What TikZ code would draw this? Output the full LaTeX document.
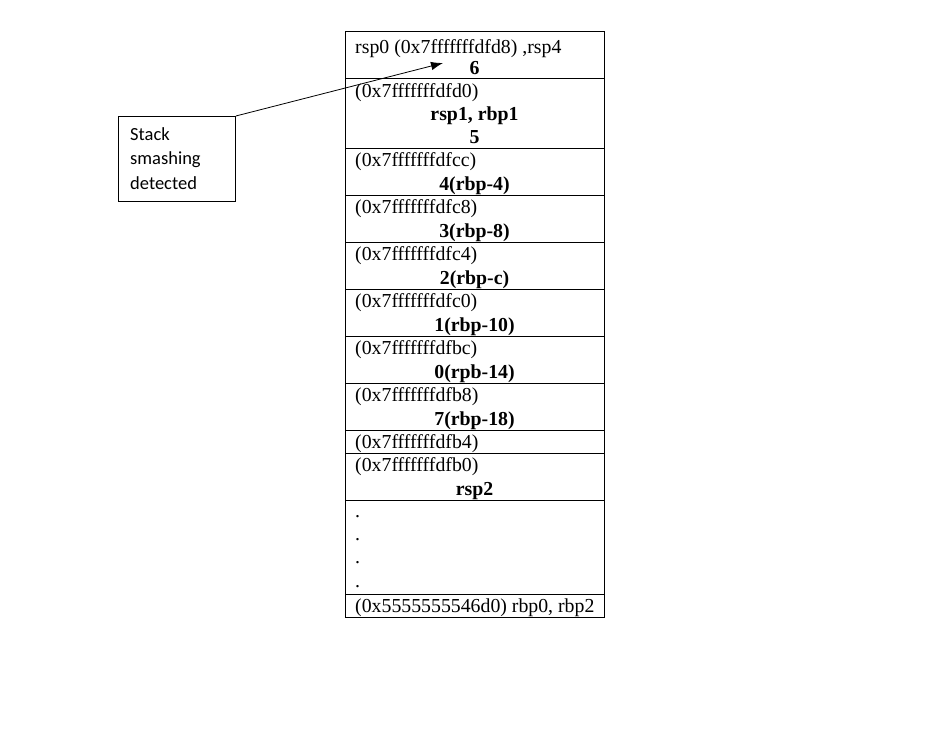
\documentclass[tikz,border=0pt]{standalone}
\usepackage{fontspec}
\setmainfont{Liberation Serif}
\newfontfamily\calloutfont{Carlito}
\usetikzlibrary{arrows.meta}
\begin{document}
\begin{tikzpicture}[x=1pt,y=-1pt,
  frame/.style={draw=black,line width=0.9pt},
  addr/.style={anchor=base west,inner sep=0pt,font=\fontsize{19.8}{22}\selectfont},
  val/.style={anchor=base,inner sep=0pt,font=\fontsize{19.8}{22}\selectfont\bfseries},
  note/.style={anchor=base west,inner sep=0pt,font=\calloutfont\fontsize{18.5}{22}\selectfont},
  notebox/.style={draw=black,line width=0.9pt,minimum width=117pt,minimum height=85pt,inner sep=0pt,anchor=north west},
  pointer/.style={line width=0.8pt,-{Latex[length=12pt,width=8.5pt]}}]
\useasboundingbox (0,0) rectangle (933,741);

% stack cells, top to bottom
\foreach \t/\b in {31/78,78/148,148/195,195/242,242/289,289/336,336/383,383/430,430/453,453/500,500/594,594/617}
  \draw[frame] (345,\t) rectangle (604,\b);

% cell contents
\node[addr] (a1) at (355,53.5) {rsp0 (0x7fffffffdfd8) ,rsp4};
\node[val]  (v1) at (474.5,75) {6};

\node[addr] (a2) at (355,97.5) {(0x7fffffffdfd0)};
\node[val]  (v2a) at (474.5,120.5) {rsp1, rbp1};
\node[val]  (v2b) at (474.5,143) {5};

\node[addr] (a3) at (355,166) {(0x7fffffffdfcc)};
\node[val]  (v3) at (474.5,190.5) {4(rbp-4)};

\node[addr] (a4) at (355,213.5) {(0x7fffffffdfc8)};
\node[val]  (v4) at (474.5,237.5) {3(rbp-8)};

\node[addr] (a5) at (355,260.5) {(0x7fffffffdfc4)};
\node[val]  (v5) at (474.5,284.5) {2(rbp-c)};

\node[addr] (a6) at (355,307.5) {(0x7fffffffdfc0)};
\node[val]  (v6) at (474.5,331.5) {1(rbp-10)};

\node[addr] (a7) at (355,354.5) {(0x7fffffffdfbc)};
\node[val]  (v7) at (474.5,378.5) {0(rpb-14)};

\node[addr] (a8) at (355,401.5) {(0x7fffffffdfb8)};
\node[val]  (v8) at (474.5,425.5) {7(rbp-18)};

\node[addr] (a9) at (355,448) {(0x7fffffffdfb4)};

\node[addr] (a10) at (355,471.5) {(0x7fffffffdfb0)};
\node[val]  (v10) at (474.5,495.5) {rsp2};

\foreach \y [count=\i] in {517,540,563.5,587}
  \node[addr] (dot\i) at (355,\y) {.};

\node[addr] (a12) at (355,612) {(0x5555555546d0) rbp0, rbp2};

% callout
\node[notebox] (callout) at (118,116) {};
\node[note] (n1) at (130,140) {Stack};
\node[note] (n2) at (130,164.5) {smashing};
\node[note] (n3) at (130,189) {detected};

\coordinate (tip) at (443,63);
\draw[pointer] (callout.north east) -- (tip);
\end{tikzpicture}
\end{document}
